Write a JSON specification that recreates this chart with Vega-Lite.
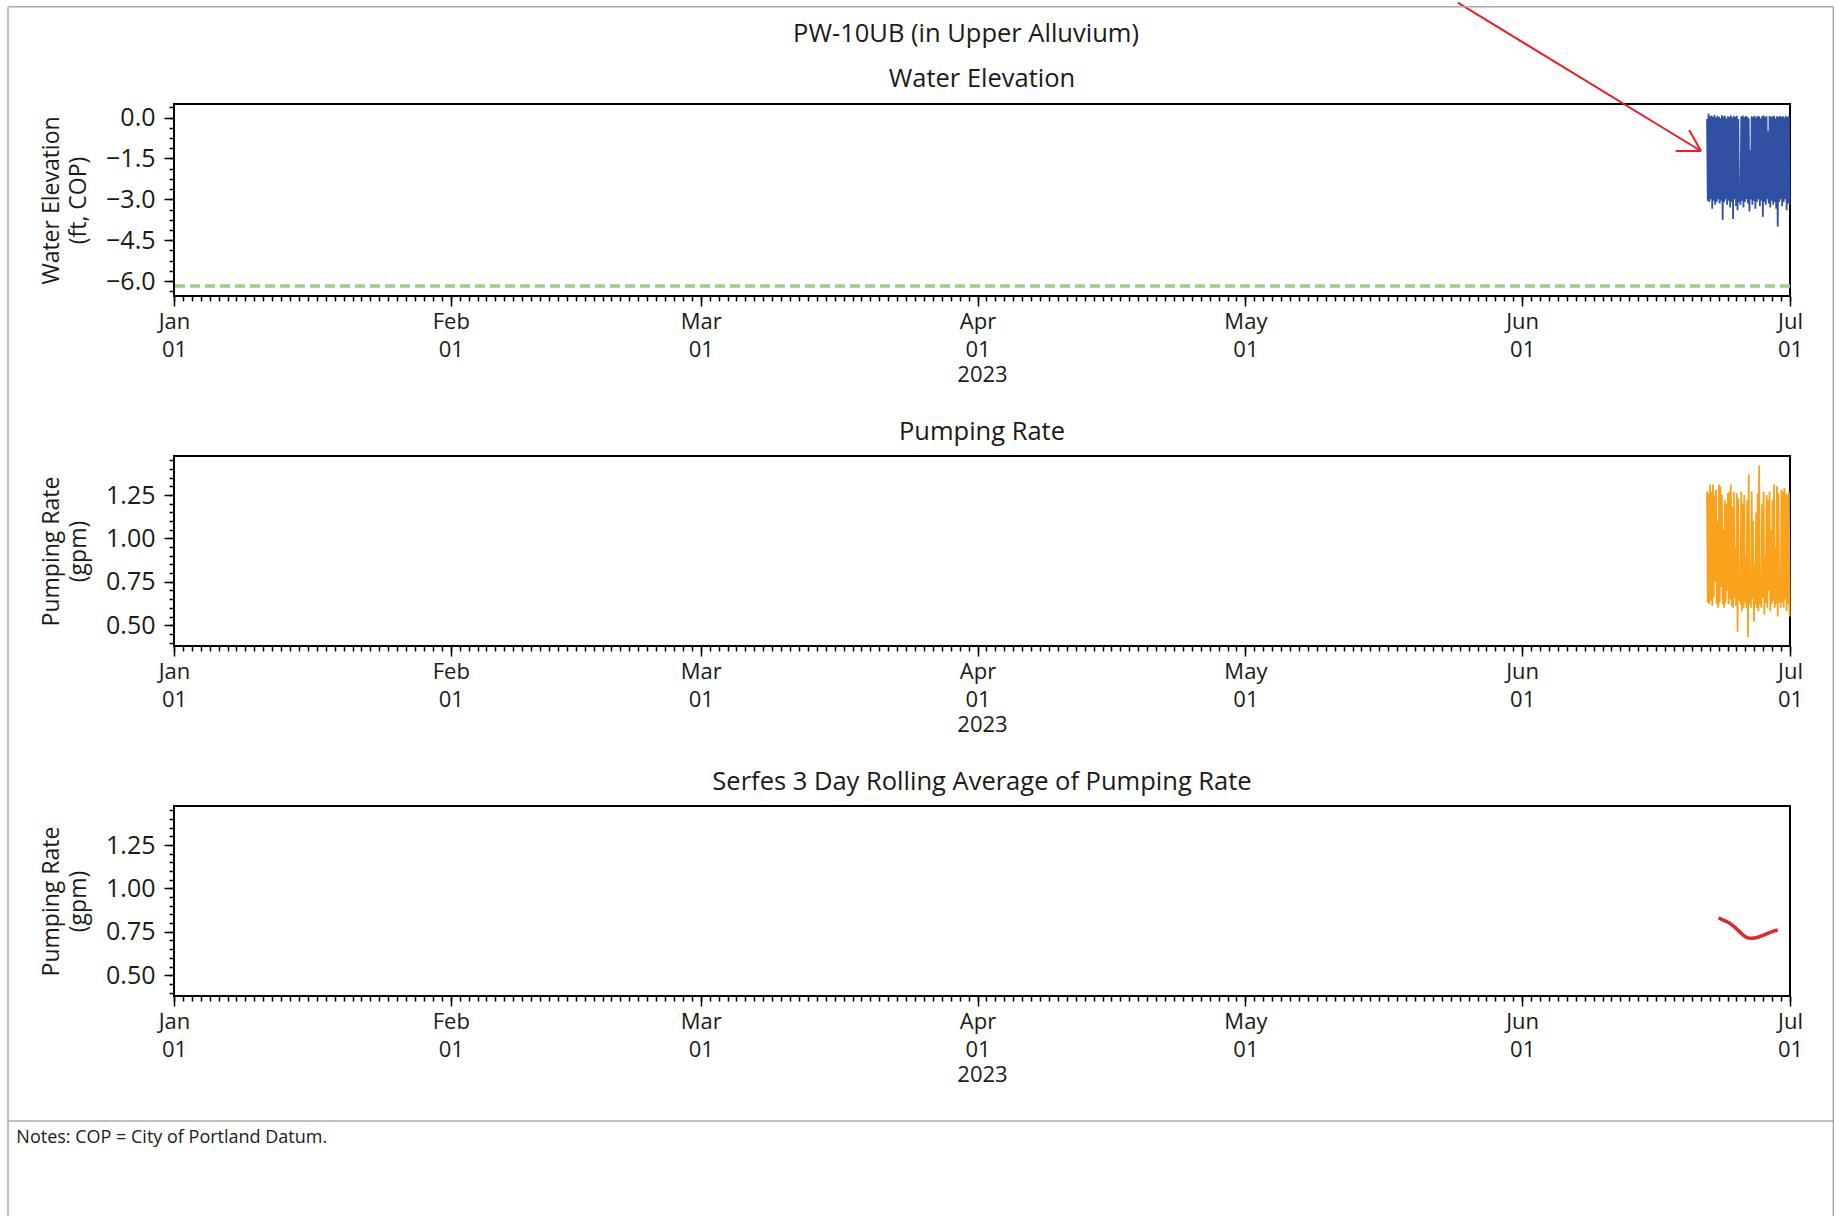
{
  "$schema": "https://vega.github.io/schema/vega-lite/v6.json",
  "background": "white",
  "padding": {"left": 6, "top": 0, "right": 0, "bottom": 0},
  "bounds": "flush",
  "spacing": 160,
  "title": {"text": "PW-10UB (in Upper Alluvium)", "anchor": "start", "align": "center", "dx": 792, "offset": -47, "frame": "group"},
  "config": {
    "font": "Open Sans",
    "view": {"stroke": "#000000", "strokeWidth": 2},
    "title": {"font": "Open Sans", "fontSize": 25.5, "fontWeight": "normal", "color": "#1a1a1a", "baseline": "alphabetic"},
    "axis": {"labelFont": "Open Sans", "labelFontSize": 22, "labelColor": "#1a1a1a", "titleFont": "Open Sans", "titleFontSize": 22, "titleFontWeight": "normal", "titleColor": "#1a1a1a", "tickColor": "#000000", "tickWidth": 1.5, "domain": false, "grid": false, "labelFlush": false, "labelOverlap": false, "labelBound": false}
  },
  "datasets": {
    "wl": [
      {"t":"2023-06-21T17:00","v":-0.05},{"t":"2023-06-21T19:00","v":-3.05},{"t":"2023-06-21T21:00","v":0.15},{"t":"2023-06-21T23:00","v":-3.1},
      {"t":"2023-06-22T01:00","v":0.05},{"t":"2023-06-22T03:00","v":-3.0},{"t":"2023-06-22T05:00","v":0.08},{"t":"2023-06-22T07:00","v":-3.35},{"t":"2023-06-22T09:00","v":0.02},{"t":"2023-06-22T11:00","v":-3.05},{"t":"2023-06-22T13:00","v":0.1},{"t":"2023-06-22T15:00","v":-3.2},{"t":"2023-06-22T17:00","v":0.0},{"t":"2023-06-22T19:00","v":-3.1},{"t":"2023-06-22T21:00","v":0.06},{"t":"2023-06-22T23:00","v":-3.0},
      {"t":"2023-06-23T01:00","v":0.03},{"t":"2023-06-23T03:00","v":-3.15},{"t":"2023-06-23T05:00","v":-0.02},{"t":"2023-06-23T07:00","v":-3.05},{"t":"2023-06-23T09:00","v":0.09},{"t":"2023-06-23T11:00","v":-3.75},{"t":"2023-06-23T13:00","v":0.04},{"t":"2023-06-23T15:00","v":-3.1},{"t":"2023-06-23T17:00","v":0.07},{"t":"2023-06-23T19:00","v":-3.0},{"t":"2023-06-23T21:00","v":-0.03},{"t":"2023-06-23T23:00","v":-3.2},
      {"t":"2023-06-24T01:00","v":0.05},{"t":"2023-06-24T03:00","v":-3.05},{"t":"2023-06-24T05:00","v":0.02},{"t":"2023-06-24T07:00","v":-3.3},{"t":"2023-06-24T09:00","v":0.08},{"t":"2023-06-24T11:00","v":-3.1},{"t":"2023-06-24T13:00","v":0.0},{"t":"2023-06-24T15:00","v":-3.72},{"t":"2023-06-24T17:00","v":0.06},{"t":"2023-06-24T19:00","v":-3.0},{"t":"2023-06-24T21:00","v":0.03},{"t":"2023-06-24T23:00","v":-3.25},
      {"t":"2023-06-25T01:00","v":0.07},{"t":"2023-06-25T03:00","v":-3.4},{"t":"2023-06-25T05:00","v":-0.05},{"t":"2023-06-25T07:00","v":-3.1},{"t":"2023-06-25T09:00","v":-2.9},{"t":"2023-06-25T11:00","v":-3.2},{"t":"2023-06-25T13:00","v":0.04},{"t":"2023-06-25T15:00","v":-3.05},{"t":"2023-06-25T17:00","v":0.08},{"t":"2023-06-25T19:00","v":-3.3},{"t":"2023-06-25T21:00","v":0.01},{"t":"2023-06-25T23:00","v":-3.1},
      {"t":"2023-06-26T01:00","v":0.06},{"t":"2023-06-26T03:00","v":-3.0},{"t":"2023-06-26T05:00","v":0.03},{"t":"2023-06-26T07:00","v":-3.15},{"t":"2023-06-26T09:00","v":-0.02},{"t":"2023-06-26T11:00","v":-3.45},{"t":"2023-06-26T13:00","v":-1.2},{"t":"2023-06-26T15:00","v":-3.0},{"t":"2023-06-26T17:00","v":0.05},{"t":"2023-06-26T19:00","v":-3.2},{"t":"2023-06-26T21:00","v":0.02},{"t":"2023-06-26T23:00","v":-3.05},
      {"t":"2023-06-27T01:00","v":0.07},{"t":"2023-06-27T03:00","v":-3.35},{"t":"2023-06-27T05:00","v":0.0},{"t":"2023-06-27T07:00","v":-3.1},{"t":"2023-06-27T09:00","v":0.06},{"t":"2023-06-27T11:00","v":-3.0},{"t":"2023-06-27T13:00","v":0.04},{"t":"2023-06-27T15:00","v":-3.25},{"t":"2023-06-27T17:00","v":-0.03},{"t":"2023-06-27T19:00","v":-3.05},{"t":"2023-06-27T21:00","v":0.05},{"t":"2023-06-27T23:00","v":-3.64},
      {"t":"2023-06-28T01:00","v":0.08},{"t":"2023-06-28T03:00","v":-3.1},{"t":"2023-06-28T05:00","v":0.02},{"t":"2023-06-28T07:00","v":-3.2},{"t":"2023-06-28T09:00","v":0.05},{"t":"2023-06-28T11:00","v":-3.0},{"t":"2023-06-28T13:00","v":-0.5},{"t":"2023-06-28T15:00","v":-3.15},{"t":"2023-06-28T17:00","v":0.06},{"t":"2023-06-28T19:00","v":-3.3},{"t":"2023-06-28T21:00","v":0.03},{"t":"2023-06-28T23:00","v":-3.05},
      {"t":"2023-06-29T01:00","v":0.04},{"t":"2023-06-29T03:00","v":-3.2},{"t":"2023-06-29T05:00","v":0.07},{"t":"2023-06-29T07:00","v":-3.1},{"t":"2023-06-29T09:00","v":-0.02},{"t":"2023-06-29T11:00","v":-3.35},{"t":"2023-06-29T13:00","v":0.05},{"t":"2023-06-29T15:00","v":-4.0},{"t":"2023-06-29T17:00","v":0.02},{"t":"2023-06-29T19:00","v":-3.1},{"t":"2023-06-29T21:00","v":0.06},{"t":"2023-06-29T23:00","v":-3.0},
      {"t":"2023-06-30T01:00","v":0.03},{"t":"2023-06-30T03:00","v":-3.25},{"t":"2023-06-30T05:00","v":0.05},{"t":"2023-06-30T07:00","v":-3.1},{"t":"2023-06-30T09:00","v":0.0},{"t":"2023-06-30T11:00","v":-3.0},{"t":"2023-06-30T13:00","v":0.06},{"t":"2023-06-30T15:00","v":-3.4},{"t":"2023-06-30T17:00","v":0.02},{"t":"2023-06-30T19:00","v":-3.15},{"t":"2023-06-30T21:00","v":0.05},{"t":"2023-06-30T23:00","v":-3.2}
    ],
    "pr": [
      {"t":"2023-06-21T17:00","r":1.27},{"t":"2023-06-21T19:00","r":0.63},{"t":"2023-06-21T21:00","r":1.26},{"t":"2023-06-21T23:00","r":0.62},
      {"t":"2023-06-22T01:00","r":1.31},{"t":"2023-06-22T03:00","r":0.64},{"t":"2023-06-22T05:00","r":1.27},{"t":"2023-06-22T07:00","r":0.61},{"t":"2023-06-22T09:00","r":1.31},{"t":"2023-06-22T11:00","r":0.66},{"t":"2023-06-22T13:00","r":1.25},{"t":"2023-06-22T15:00","r":0.75},{"t":"2023-06-22T17:00","r":1.28},{"t":"2023-06-22T19:00","r":0.62},{"t":"2023-06-22T21:00","r":1.1},{"t":"2023-06-22T23:00","r":0.6},
      {"t":"2023-06-23T01:00","r":1.31},{"t":"2023-06-23T03:00","r":0.63},{"t":"2023-06-23T05:00","r":1.3},{"t":"2023-06-23T07:00","r":0.72},{"t":"2023-06-23T09:00","r":1.25},{"t":"2023-06-23T11:00","r":0.62},{"t":"2023-06-23T13:00","r":1.05},{"t":"2023-06-23T15:00","r":0.6},{"t":"2023-06-23T17:00","r":1.22},{"t":"2023-06-23T19:00","r":0.63},{"t":"2023-06-23T21:00","r":1.2},{"t":"2023-06-23T23:00","r":0.7},
      {"t":"2023-06-24T01:00","r":1.26},{"t":"2023-06-24T03:00","r":0.62},{"t":"2023-06-24T05:00","r":1.27},{"t":"2023-06-24T07:00","r":0.65},{"t":"2023-06-24T09:00","r":1.31},{"t":"2023-06-24T11:00","r":0.61},{"t":"2023-06-24T13:00","r":1.18},{"t":"2023-06-24T15:00","r":0.6},{"t":"2023-06-24T17:00","r":1.27},{"t":"2023-06-24T19:00","r":0.66},{"t":"2023-06-24T21:00","r":0.95},{"t":"2023-06-24T23:00","r":0.61},
      {"t":"2023-06-25T01:00","r":1.26},{"t":"2023-06-25T03:00","r":0.46},{"t":"2023-06-25T05:00","r":1.23},{"t":"2023-06-25T07:00","r":0.64},{"t":"2023-06-25T09:00","r":0.8},{"t":"2023-06-25T11:00","r":0.62},{"t":"2023-06-25T13:00","r":1.27},{"t":"2023-06-25T15:00","r":0.58},{"t":"2023-06-25T17:00","r":1.2},{"t":"2023-06-25T19:00","r":0.6},{"t":"2023-06-25T21:00","r":1.25},{"t":"2023-06-25T23:00","r":0.63},
      {"t":"2023-06-26T01:00","r":0.9},{"t":"2023-06-26T03:00","r":0.6},{"t":"2023-06-26T05:00","r":1.22},{"t":"2023-06-26T07:00","r":0.43},{"t":"2023-06-26T09:00","r":1.37},{"t":"2023-06-26T11:00","r":0.62},{"t":"2023-06-26T13:00","r":0.78},{"t":"2023-06-26T15:00","r":0.6},{"t":"2023-06-26T17:00","r":1.27},{"t":"2023-06-26T19:00","r":0.65},{"t":"2023-06-26T21:00","r":1.1},{"t":"2023-06-26T23:00","r":0.52},
      {"t":"2023-06-27T01:00","r":0.85},{"t":"2023-06-27T03:00","r":0.62},{"t":"2023-06-27T05:00","r":1.15},{"t":"2023-06-27T07:00","r":0.6},{"t":"2023-06-27T09:00","r":1.26},{"t":"2023-06-27T11:00","r":0.58},{"t":"2023-06-27T13:00","r":1.42},{"t":"2023-06-27T15:00","r":0.62},{"t":"2023-06-27T17:00","r":0.75},{"t":"2023-06-27T19:00","r":0.6},{"t":"2023-06-27T21:00","r":1.2},{"t":"2023-06-27T23:00","r":0.66},
      {"t":"2023-06-28T01:00","r":1.27},{"t":"2023-06-28T03:00","r":0.56},{"t":"2023-06-28T05:00","r":0.9},{"t":"2023-06-28T07:00","r":0.63},{"t":"2023-06-28T09:00","r":1.25},{"t":"2023-06-28T11:00","r":0.6},{"t":"2023-06-28T13:00","r":1.22},{"t":"2023-06-28T15:00","r":0.7},{"t":"2023-06-28T17:00","r":1.27},{"t":"2023-06-28T19:00","r":0.58},{"t":"2023-06-28T21:00","r":1.05},{"t":"2023-06-28T23:00","r":0.62},
      {"t":"2023-06-29T01:00","r":1.22},{"t":"2023-06-29T03:00","r":0.64},{"t":"2023-06-29T05:00","r":1.31},{"t":"2023-06-29T07:00","r":0.6},{"t":"2023-06-29T09:00","r":0.95},{"t":"2023-06-29T11:00","r":0.62},{"t":"2023-06-29T13:00","r":1.3},{"t":"2023-06-29T15:00","r":0.55},{"t":"2023-06-29T17:00","r":1.26},{"t":"2023-06-29T19:00","r":0.63},{"t":"2023-06-29T21:00","r":0.8},{"t":"2023-06-29T23:00","r":0.6},
      {"t":"2023-06-30T01:00","r":1.28},{"t":"2023-06-30T03:00","r":0.63},{"t":"2023-06-30T05:00","r":1.27},{"t":"2023-06-30T07:00","r":0.6},{"t":"2023-06-30T09:00","r":1.29},{"t":"2023-06-30T11:00","r":0.65},{"t":"2023-06-30T13:00","r":1.26},{"t":"2023-06-30T15:00","r":0.58},{"t":"2023-06-30T17:00","r":1.25},{"t":"2023-06-30T19:00","r":0.62},{"t":"2023-06-30T21:00","r":1.27},{"t":"2023-06-30T23:00","r":0.55}
    ],
    "avg": [
      {"t":"2023-06-23T00:00","r":0.83},{"t":"2023-06-23T12:00","r":0.818},{"t":"2023-06-24T00:00","r":0.806},{"t":"2023-06-24T12:00","r":0.79},{"t":"2023-06-25T00:00","r":0.768},{"t":"2023-06-25T12:00","r":0.743},{"t":"2023-06-26T00:00","r":0.722},{"t":"2023-06-26T12:00","r":0.713},{"t":"2023-06-27T00:00","r":0.714},{"t":"2023-06-27T12:00","r":0.72},{"t":"2023-06-28T00:00","r":0.73},{"t":"2023-06-28T12:00","r":0.741},{"t":"2023-06-29T00:00","r":0.751},{"t":"2023-06-29T15:00","r":0.76}
    ],
    "thr": [{"v": -6.18}],
    "one": [{}]
  },
  "vconcat": [
    {
      "width": 1616, "height": 192,
      "title": {"text": "Water Elevation", "offset": -91, "anchor": "middle", "frame": "group"},
      "resolve": {"axis": {"x": "independent", "y": "independent"}},
      "layer": [
        {
          "data": {"name": "thr"},
          "mark": {"type": "rule", "color": "#9acf86", "strokeWidth": 3.5, "strokeDash": [10, 5]},
          "encoding": {"y": {"field": "v", "type": "quantitative", "axis": null}}
        },
        {
          "data": {"name": "wl"},
          "mark": {"type": "line", "color": "#3050a3", "strokeWidth": 1.8},
          "encoding": {
            "x": {"field": "t", "type": "temporal", "scale": {"domain": [{"year":2023,"month":1,"date":1},{"year":2023,"month":7,"date":1}], "nice": false},
                  "axis": {"values": [{"year":2023,"month":1,"date":1},{"year":2023,"month":2,"date":1},{"year":2023,"month":3,"date":1},{"year":2023,"month":4,"date":1},{"year":2023,"month":5,"date":1},{"year":2023,"month":6,"date":1},{"year":2023,"month":7,"date":1}],
                           "labelExpr": "[timeFormat(datum.value, '%b'), timeFormat(datum.value, '%d')]", "tickSize": 10, "labelPadding": 5, "labelLineHeight": 28, "labelAlign": "center", "labelBaseline": "top", "title": "2023", "titlePadding": 4, "orient": "bottom"}},
            "y": {"field": "v", "type": "quantitative", "scale": {"domain": [-6.55, 0.5], "nice": false, "zero": false},
                  "axis": {"values": [-6, -4.5, -3, -1.5, 0], "format": ".1f", "tickSize": 10, "labelPadding": 9, "labelFontSize": 25, "title": ["Water Elevation", "(ft, COP)"], "titleFontSize": 23, "titlePadding": 15, "titleLineHeight": 27, "orient": "left"}}
          }
        },
        {
          "data": {"name": "wl"},
          "mark": {"type": "point", "opacity": 0},
          "encoding": {
            "x": {"field": "t", "type": "temporal", "axis": {"tickCount": {"interval": "day", "step": 1}, "labels": false, "tickSize": 5, "title": null, "orient": "bottom"}},
            "y": {"field": "v", "type": "quantitative", "axis": {"values": [-6.375,-6,-5.625,-5.25,-4.875,-4.5,-4.125,-3.75,-3.375,-3,-2.625,-2.25,-1.875,-1.5,-1.125,-0.75,-0.375,0,0.375], "labels": false, "tickSize": 5, "title": null, "orient": "left"}}
          }
        },
        {
          "data": {"name": "one"},
          "mark": {"type": "rule", "color": "#e8202c", "strokeWidth": 2},
          "encoding": {
            "x": {"datum": {"year":2023,"month":5,"date":24,"hours":19,"minutes":12}, "type": "temporal", "axis": null},
            "x2": {"datum": {"year":2023,"month":6,"date":21,"hours":0,"minutes":40}},
            "y": {"datum": 4.22, "type": "quantitative", "axis": null},
            "y2": {"datum": -1.226}
          }
        },
        {
          "data": {"name": "one"},
          "mark": {"type": "rule", "color": "#e8202c", "strokeWidth": 2},
          "encoding": {
            "x": {"datum": {"year":2023,"month":6,"date":18,"hours":5,"minutes":0}, "type": "temporal", "axis": null},
            "x2": {"datum": {"year":2023,"month":6,"date":21,"hours":0,"minutes":40}},
            "y": {"datum": -1.226, "type": "quantitative", "axis": null},
            "y2": {"datum": -1.226}
          }
        },
        {
          "data": {"name": "one"},
          "mark": {"type": "rule", "color": "#e8202c", "strokeWidth": 2},
          "encoding": {
            "x": {"datum": {"year":2023,"month":6,"date":19,"hours":17,"minutes":0}, "type": "temporal", "axis": null},
            "x2": {"datum": {"year":2023,"month":6,"date":21,"hours":0,"minutes":40}},
            "y": {"datum": -0.453, "type": "quantitative", "axis": null},
            "y2": {"datum": -1.226}
          }
        },
        {
          "data": {"name": "one"},
          "mark": {"type": "rule", "color": "#aaaaaa", "strokeWidth": 1.5},
          "encoding": {
            "x": {"datum": {"year":2022,"month":12,"date":13,"hours":9,"minutes":50}, "type": "temporal", "axis": null},
            "x2": {"datum": {"year":2023,"month":7,"date":5,"hours":20,"minutes":24}},
            "y": {"datum": 4.07, "type": "quantitative", "axis": null}
          }
        },
        {
          "data": {"name": "one"},
          "mark": {"type": "rule", "color": "#aaaaaa", "strokeWidth": 1.5},
          "encoding": {
            "x": {"datum": {"year":2022,"month":12,"date":13,"hours":9,"minutes":50}, "type": "temporal", "axis": null},
            "y": {"datum": 4.07, "type": "quantitative", "axis": null},
            "y2": {"datum": -41}
          }
        },
        {
          "data": {"name": "one"},
          "mark": {"type": "rule", "color": "#aaaaaa", "strokeWidth": 1.5},
          "encoding": {
            "x": {"datum": {"year":2023,"month":7,"date":5,"hours":20,"minutes":24}, "type": "temporal", "axis": null},
            "y": {"datum": 4.07, "type": "quantitative", "axis": null},
            "y2": {"datum": -41}
          }
        }
      ]
    },
    {
      "width": 1616, "height": 190,
      "title": {"text": "Pumping Rate", "offset": 11, "anchor": "middle", "frame": "group"},
      "resolve": {"axis": {"x": "independent", "y": "independent"}},
      "layer": [
        {
          "data": {"name": "pr"},
          "mark": {"type": "line", "color": "#f8a31b", "strokeWidth": 1.8},
          "encoding": {
            "x": {"field": "t", "type": "temporal", "scale": {"domain": [{"year":2023,"month":1,"date":1},{"year":2023,"month":7,"date":1}], "nice": false},
                  "axis": {"values": [{"year":2023,"month":1,"date":1},{"year":2023,"month":2,"date":1},{"year":2023,"month":3,"date":1},{"year":2023,"month":4,"date":1},{"year":2023,"month":5,"date":1},{"year":2023,"month":6,"date":1},{"year":2023,"month":7,"date":1}],
                           "labelExpr": "[timeFormat(datum.value, '%b'), timeFormat(datum.value, '%d')]", "tickSize": 10, "labelPadding": 5, "labelLineHeight": 28, "labelAlign": "center", "labelBaseline": "top", "title": "2023", "titlePadding": 4, "orient": "bottom"}},
            "y": {"field": "r", "type": "quantitative", "scale": {"domain": [0.38, 1.475], "nice": false, "zero": false},
                  "axis": {"values": [0.5, 0.75, 1.0, 1.25], "format": ".2f", "tickSize": 10, "labelPadding": 9, "labelFontSize": 25, "title": ["Pumping Rate", "(gpm)"], "titleFontSize": 23, "titlePadding": 15, "titleLineHeight": 27, "orient": "left"}}
          }
        },
        {
          "data": {"name": "pr"},
          "mark": {"type": "point", "opacity": 0},
          "encoding": {
            "x": {"field": "t", "type": "temporal", "axis": {"tickCount": {"interval": "day", "step": 1}, "labels": false, "tickSize": 5, "title": null, "orient": "bottom"}},
            "y": {"field": "r", "type": "quantitative", "axis": {"values": [0.4,0.45,0.5,0.55,0.6,0.65,0.7,0.75,0.8,0.85,0.9,0.95,1.0,1.05,1.1,1.15,1.2,1.25,1.3,1.35,1.4,1.45], "labels": false, "tickSize": 5, "title": null, "orient": "left"}}
          }
        }
      ]
    },
    {
      "width": 1616, "height": 190,
      "title": {"text": "Serfes 3 Day Rolling Average of Pumping Rate", "offset": 11, "anchor": "middle", "frame": "group"},
      "resolve": {"axis": {"x": "independent", "y": "independent"}},
      "layer": [
        {
          "data": {"name": "avg"},
          "mark": {"type": "line", "color": "#e8232a", "strokeWidth": 3.5, "interpolate": "monotone"},
          "encoding": {
            "x": {"field": "t", "type": "temporal", "scale": {"domain": [{"year":2023,"month":1,"date":1},{"year":2023,"month":7,"date":1}], "nice": false},
                  "axis": {"values": [{"year":2023,"month":1,"date":1},{"year":2023,"month":2,"date":1},{"year":2023,"month":3,"date":1},{"year":2023,"month":4,"date":1},{"year":2023,"month":5,"date":1},{"year":2023,"month":6,"date":1},{"year":2023,"month":7,"date":1}],
                           "labelExpr": "[timeFormat(datum.value, '%b'), timeFormat(datum.value, '%d')]", "tickSize": 10, "labelPadding": 5, "labelLineHeight": 28, "labelAlign": "center", "labelBaseline": "top", "title": "2023", "titlePadding": 4, "orient": "bottom"}},
            "y": {"field": "r", "type": "quantitative", "scale": {"domain": [0.38, 1.475], "nice": false, "zero": false},
                  "axis": {"values": [0.5, 0.75, 1.0, 1.25], "format": ".2f", "tickSize": 10, "labelPadding": 9, "labelFontSize": 25, "title": ["Pumping Rate", "(gpm)"], "titleFontSize": 23, "titlePadding": 15, "titleLineHeight": 27, "orient": "left"}}
          }
        },
        {
          "data": {"name": "avg"},
          "mark": {"type": "point", "opacity": 0},
          "encoding": {
            "x": {"field": "t", "type": "temporal", "axis": {"tickCount": {"interval": "day", "step": 1}, "labels": false, "tickSize": 5, "title": null, "orient": "bottom"}},
            "y": {"field": "r", "type": "quantitative", "axis": {"values": [0.4,0.45,0.5,0.55,0.6,0.65,0.7,0.75,0.8,0.85,0.9,0.95,1.0,1.05,1.1,1.15,1.2,1.25,1.3,1.35,1.4,1.45], "labels": false, "tickSize": 5, "title": null, "orient": "left"}}
          }
        },
        {
          "data": {"name": "one"},
          "mark": {"type": "rule", "color": "#aaaaaa", "strokeWidth": 1.5},
          "encoding": {
            "x": {"datum": {"year":2022,"month":12,"date":13,"hours":9,"minutes":50}, "type": "temporal", "axis": null},
            "x2": {"datum": {"year":2023,"month":7,"date":5,"hours":20,"minutes":24}},
            "y": {"datum": -0.341, "type": "quantitative", "axis": null}
          }
        },
        {
          "data": {"name": "one"},
          "mark": {"type": "text", "text": "Notes: COP = City of Portland Datum.", "align": "left", "baseline": "alphabetic", "fontSize": 18, "font": "Open Sans", "color": "#1a1a1a"},
          "encoding": {
            "x": {"datum": {"year":2022,"month":12,"date":14,"hours":8,"minutes":10}, "type": "temporal", "axis": null},
            "y": {"datum": -0.469, "type": "quantitative", "axis": null}
          }
        }
      ]
    }
  ]
}
